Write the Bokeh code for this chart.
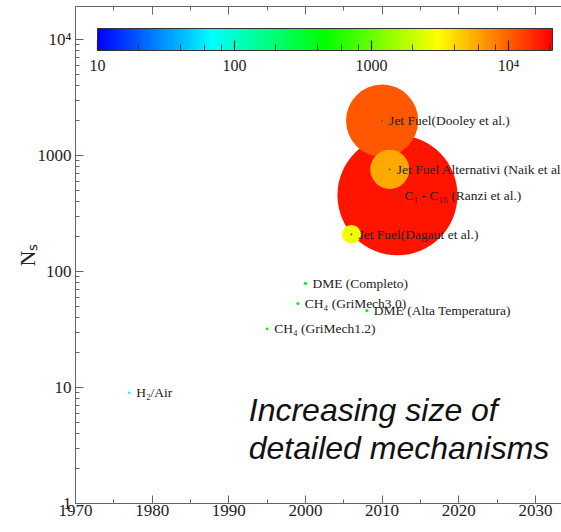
import colorsys
from bokeh.plotting import figure
from bokeh.models import (ColumnDataSource, LogColorMapper, ColorBar, LogTicker,
                          SingleIntervalTicker, LinearAxis, Label, Range1d, CDSView, BooleanFilter)
from bokeh.core.properties import value
from bokeh.embed import file_html
from bokeh.resources import INLINE

# ---- data (drawn in this order: largest bubble first) ----
names = ["C\u2081 - C\u2081\u2086 (Ranzi et al.)", "Jet Fuel(Dooley et al.)",
         "Jet Fuel Alternativi (Naik et al.)", "Jet Fuel(Dagaut et al.)",
         "DME (Completo)", "CH\u2084 (GriMech3.0)", "DME (Alta Temperatura)",
         "CH\u2084 (GriMech1.2)", "H\u2082/Air"]
years = [2012, 2010, 2011, 2006, 2000, 1999, 2008, 1995, 1977]
species = [455, 2000, 760, 209, 79, 53, 46, 32, 9]
reactions = [17800, 10700, 5800, 2800, 500, 470, 460, 430, 65]
cbar_ticks = {10: "10", 100: "100", 1000: "1000", 10000: "10\u2074"}
y_ticks = {1: "1", 10: "10", 100: "100", 1000: "1000", 10000: "10\u2074"}

# rainbow palette: blue -> cyan -> green -> yellow -> red
palette = []
for i in range(256):
    h = (240.0 - 240.0 * i / 255.0) / 360.0
    r, g, b = colorsys.hsv_to_rgb(h, 1.0, 1.0)
    palette.append("#%02x%02x%02x" % (int(r * 255), int(g * 255), int(b * 255)))

mapper = LogColorMapper(palette=palette, low=10, high=20900)

sizes = [max(2.5, r * 120.0 / 17800.0) for r in reactions]
big = [r > 1000 for r in reactions]
src = ColumnDataSource(dict(x=years, y=species, r=reactions, size=sizes, name=names))

p = figure(width=561, height=522, output_backend="svg", toolbar_location=None,
           y_axis_type="log", x_range=Range1d(1970, 2033.4), y_range=Range1d(1, 19280),
           min_border_left=75, min_border_right=0, min_border_top=6, min_border_bottom=19,
           background_fill_color="white", border_fill_color="white")
p.grid.visible = False
p.outline_line_color = None

p.scatter("x", "y", source=src, size="size", line_color=None,
          fill_color={"field": "r", "transform": mapper})
p.scatter("x", "y", source=src, size=1.8, line_color=None, fill_color="#555555",
          view=CDSView(filter=BooleanFilter(big)))
p.text("x", "y", text="name", source=src, x_offset=7, text_baseline="middle",
       text_font=value("Liberation Serif"), text_font_size=value("13.5px"), text_color="#222222")

# axes styling
for ax in [p.xaxis[0], p.yaxis[0]]:
    ax.axis_line_color = "#666666"
    ax.major_tick_line_color = "#666666"
    ax.minor_tick_line_color = "#666666"
    ax.major_tick_in = 8
    ax.major_tick_out = 0
    ax.minor_tick_in = 4
    ax.minor_tick_out = 0
    ax.major_label_text_font = "Liberation Serif"
    ax.major_label_text_font_size = "17px"
    ax.major_label_text_color = "#222222"
p.xaxis.ticker = SingleIntervalTicker(interval=10, num_minor_ticks=2)
p.xaxis.major_label_standoff = 1
p.yaxis.major_label_overrides = y_ticks
p.yaxis.major_label_standoff = 4
p.yaxis.axis_label = "N\u209b"
p.yaxis.axis_label_text_font = "Liberation Serif"
p.yaxis.axis_label_text_font_size = "22px"
p.yaxis.axis_label_text_font_style = "normal"
p.yaxis.axis_label_text_color = "#222222"
p.yaxis.axis_label_standoff = -5

top = LinearAxis(ticker=SingleIntervalTicker(interval=10, num_minor_ticks=2))
top.axis_line_color = "#666666"
top.major_tick_line_color = "#666666"
top.minor_tick_line_color = "#666666"
top.major_tick_in = 8
top.major_tick_out = 0
top.minor_tick_in = 4
top.minor_tick_out = 0
top.major_label_text_font_size = "0px"
top.major_label_standoff = 0
p.add_layout(top, "above")

cb = ColorBar(color_mapper=mapper, orientation="horizontal", width=455, height=22,
              ticker=LogTicker(), major_label_overrides=cbar_ticks,
              location=(22, 427), padding=0, label_standoff=6,
              major_label_text_font="Liberation Serif", major_label_text_font_size="16px",
              major_label_text_color="#222222",
              major_tick_line_color="#222222", major_tick_line_alpha=0.9, major_tick_in=10,
              major_tick_out=0, major_tick_line_width=1.2,
              minor_tick_line_color="#222222", minor_tick_line_alpha=0.8, minor_tick_in=6,
              minor_tick_out=0, minor_tick_line_width=1.0,
              bar_line_color="#333333", background_fill_alpha=0, border_line_color=None)
p.add_layout(cb, "center")

# annotation
for txt, yy in [("Increasing size of", 10 ** 0.81), ("detailed mechanisms", 10 ** 0.48)]:
    p.add_layout(Label(x=1992.6, y=yy, text=txt, text_baseline="middle",
                       text_font="Liberation Sans", text_font_style="italic",
                       text_font_size="32px", text_color="#111111"))

open("out.html", "w").write(file_html(p, INLINE))
